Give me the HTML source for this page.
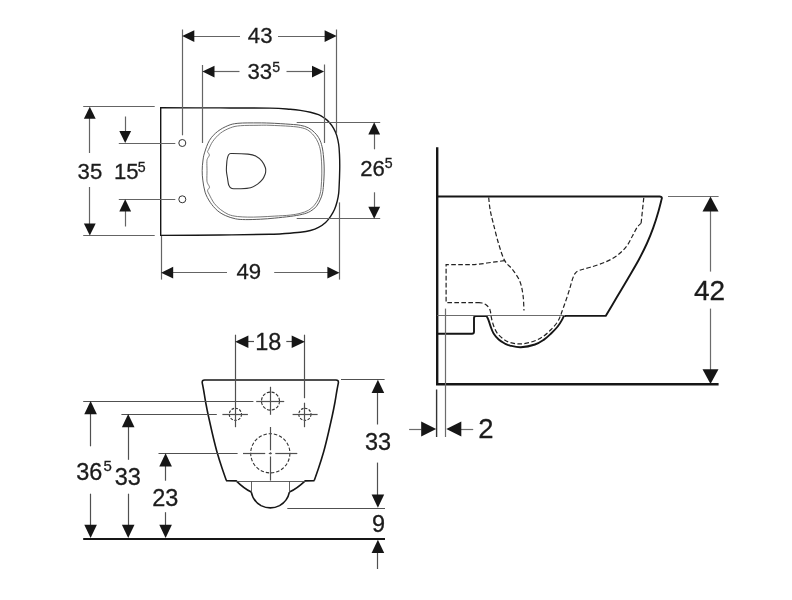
<!DOCTYPE html>
<html lang="en">
<head>
<meta charset="utf-8">
<title>Dimensional drawing</title>
<style>
html,body{margin:0;padding:0;background:#fff;}
body{width:792px;height:600px;overflow:hidden;}
svg{display:block;will-change:transform;}
svg path,svg circle{fill:none;}
svg text{font-family:"Liberation Sans",sans-serif;fill:#1c1c1c;stroke:#1c1c1c;stroke-width:0.3px;}
</style>
</head>
<body>
<svg role="img" aria-label="Dimensional drawing of a wall-hung WC: top, front and side view" width="792" height="600" viewBox="0 0 792 600">
<rect x="0" y="0" width="792" height="600" fill="#ffffff" stroke="none"/>
<path d="M160.7 107.8C170.6 107.8 201.8 107.9 220 107.9C238.2 108 258.3 107.9 270 108.1C281.7 108.3 285.1 108.9 290.2 109.3C295.2 109.7 296.9 109.9 300.3 110.4C303.7 110.9 307.4 111.5 310.4 112.2C313.4 112.9 316.1 113.7 318.5 114.7C320.9 115.7 322.6 116.9 324.5 118.2C326.4 119.5 328.1 121.1 329.6 122.8C331.1 124.5 332.4 126.2 333.6 128.3C334.8 130.4 335.9 132.7 336.7 135.4C337.5 138.1 338.2 141.3 338.7 144.5C339.2 147.7 339.3 150.3 339.5 154.6C339.7 158.8 339.8 164.9 339.7 170C339.6 175.1 339.4 181.2 339.2 185C339 188.8 339 190.4 338.7 193.1C338.4 195.8 337.9 198.5 337.2 201.2C336.5 203.9 335.7 206.7 334.6 209.2C333.5 211.7 332.1 214.1 330.6 216.3C329.1 218.5 327.6 220.6 325.6 222.4C323.6 224.2 321 226.1 318.5 227.4C316 228.8 313.4 229.7 310.4 230.5C307.4 231.3 304.5 231.8 300.3 232.3C296.1 232.8 290.2 233.2 285.2 233.5C280.1 233.8 280.9 233.9 270 234.2C259.1 234.4 238.2 234.8 220 235C201.8 235.2 170.6 235.3 160.7 235.4Z" stroke="#161616" stroke-width="1.4" stroke-linejoin="miter"/>
<path d="M202.2 170.6C202.2 167.4 202.5 163.9 202.9 161C203.3 158.1 203.4 156.3 204.5 152.9C205.6 149.5 207.3 143.9 209.5 140.3C211.7 136.7 214.6 133.8 217.7 131.4C220.8 129 224.4 127.1 227.8 125.7C231.2 124.3 232.9 123.8 237.9 123.3C242.9 122.8 252.7 122.9 258 122.9C263.4 122.9 264.6 122.9 270 123.1C275.4 123.3 285.1 123.9 290.2 124.3C295.2 124.7 297.3 124.7 300.3 125.3C303.3 125.9 306 126.6 308.4 127.8C310.8 129 312.7 130.8 314.4 132.4C316.1 134 317.3 135.4 318.5 137.4C319.7 139.4 320.7 141.6 321.5 144.5C322.3 147.4 322.9 150.3 323.3 154.6C323.8 158.8 324.2 164.9 324.2 170C324.2 175.1 323.8 181.2 323.5 185C323.2 188.8 323 190.8 322.5 193.1C322 195.4 321.5 196.9 320.5 199.1C319.5 201.3 318.2 204.2 316.5 206.2C314.8 208.2 312.8 210 310.4 211.3C308 212.7 305.7 213.5 302.3 214.3C298.9 215.2 294.8 215.8 290.2 216.4C285.6 217 279.7 217.6 274.8 218.1C269.9 218.6 265.6 218.9 260.7 219.2C255.8 219.4 249.7 219.7 245.5 219.6C241.3 219.5 238.8 219.5 235.4 218.8C232 218.1 228.3 216.9 225.3 215.5C222.3 214.1 219.7 212.6 217.2 210.4C214.7 208.2 212.2 205.3 210.2 202.3C208.2 199.3 206.3 195.9 205.1 192.2C203.9 188.5 203.3 183.7 202.8 180.1C202.3 176.5 202.2 173.8 202.2 170.6Z" stroke="#5a5a5a" stroke-width="1"/>
<path d="M207 170.6C207 167.5 206.8 163.5 206.9 161.5C207 159.5 207.1 159.7 207.5 158.6C207.9 157.5 209.4 156.1 209.4 155C209.4 153.9 207.7 152.7 207.6 151.8C207.5 150.9 207.8 151.2 208.6 149.5C209.4 147.8 210.8 144.2 212.7 141.5C214.6 138.8 217.4 135.6 220.3 133.3C223.2 131 227 129.1 230.4 127.8C233.8 126.5 235.9 126.1 240.5 125.7C245.1 125.3 253.2 125.4 258.1 125.3C263 125.2 264.6 125.1 270 125.3C275.4 125.5 285.1 125.9 290.2 126.3C295.2 126.7 297.4 126.9 300.3 127.5C303.2 128.1 305.4 128.7 307.4 129.8C309.4 130.9 310.9 132.3 312.4 133.9C313.9 135.5 315.3 137.3 316.5 139.4C317.7 141.5 318.8 144 319.5 146.5C320.2 149 320.6 150.7 321 154.6C321.4 158.5 321.8 164.9 321.8 170C321.9 175.1 321.6 181.2 321.3 185C321.1 188.8 320.8 190.8 320.3 193.1C319.8 195.4 319.3 197.1 318.3 199.1C317.3 201.1 316 203.3 314.4 205.2C312.8 207.1 310.8 209 308.4 210.3C306 211.7 303.3 212.5 300.3 213.3C297.3 214.1 294.4 214.6 290.2 215.1C285.9 215.6 279.8 215.8 274.8 216.1C269.8 216.4 264.6 216.7 260 216.9C255.4 217.1 251.3 217.2 247.5 217.1C243.7 217 240.6 216.9 237.4 216.5C234.2 216.1 231.2 215.6 228.3 214.4C225.5 213.2 222.7 211.2 220.3 209.4C218 207.6 216.1 205.8 214.2 203.3C212.3 200.8 210.2 196.3 209.1 194.2C208 192 207.5 191.6 207.6 190.4C207.7 189.2 209.5 188.4 209.5 187.2C209.5 186 208 184.5 207.6 183.3C207.2 182.1 207 182.2 206.9 180.1C206.8 178 207 173.7 207 170.6Z" stroke="#6a6a6a" stroke-width="0.9"/>
<path d="M226.4 170.6C226.3 167.8 226.7 163.4 226.9 161C227.2 158.6 227.5 157.5 227.9 156.3C228.3 155.1 228.8 154.4 229.6 153.9C230.4 153.4 229.4 153.5 232.5 153.5C235.6 153.5 244.2 153.7 248 154.1C251.8 154.5 253.3 154.8 255.6 156C257.9 157.2 260.3 159.2 261.9 161.1C263.5 163 264.7 165.8 265.3 167.5C265.9 169.2 265.7 169.9 265.7 171C265.7 172.1 265.7 172.7 265.2 174C264.7 175.3 264 177.4 262.7 179.1C261.4 180.8 259.6 182.7 257.6 184.1C255.6 185.5 253.4 186.9 250.6 187.7C247.8 188.5 243.6 188.6 240.5 188.7C237.4 188.8 233.8 189 231.9 188.4C230 187.8 229.5 186.9 228.8 185.2C228.1 183.5 227.9 180.5 227.5 178.1C227.1 175.7 226.5 173.4 226.4 170.6Z" stroke="#333" stroke-width="1.1"/>
<circle cx="182.3" cy="143" r="3.5" stroke="#333" stroke-width="1"/>
<circle cx="182.3" cy="199.3" r="3.5" stroke="#333" stroke-width="1"/>
<path d="M182.5 29.5L182.5 135.3" stroke="#646464" stroke-width="1.2"/>
<path d="M336.5 29.5L336.5 133.4" stroke="#646464" stroke-width="1.2"/>
<path d="M194 36.5L240 36.5" stroke="#646464" stroke-width="1.2"/>
<path d="M278 36.5L325 36.5" stroke="#646464" stroke-width="1.2"/>
<polygon points="182.2,36.1 194.3,30.2 194.3,42" fill="#161616" stroke="none"/>
<polygon points="336.7,36.1 324.6,30.2 324.6,42" fill="#161616" stroke="none"/>
<text transform="translate(260.2 43.4) scale(0.99 1)" font-size="22.4" text-anchor="middle">43</text>
<path d="M202.5 65L202.5 143" stroke="#646464" stroke-width="1.2"/>
<path d="M324.5 64.5L324.5 143" stroke="#646464" stroke-width="1.2"/>
<path d="M214 71.5L239.5 71.5" stroke="#646464" stroke-width="1.2"/>
<path d="M286.5 71.5L312 71.5" stroke="#646464" stroke-width="1.2"/>
<polygon points="202.4,71.6 214.5,65.7 214.5,77.5" fill="#161616" stroke="none"/>
<polygon points="324.1,71.6 312,65.7 312,77.5" fill="#161616" stroke="none"/>
<text transform="translate(247.5 79.2) scale(0.99 1)" font-size="22.4" text-anchor="start">33<tspan font-size="14.3" dx="0.1" dy="-7.1">5</tspan></text>
<path d="M83.2 106.5L154.7 106.5" stroke="#646464" stroke-width="1.2"/>
<path d="M83.2 235.5L154.7 235.5" stroke="#646464" stroke-width="1.2"/>
<path d="M89.5 118L89.5 153" stroke="#646464" stroke-width="1.2"/>
<path d="M89.5 187L89.5 224" stroke="#646464" stroke-width="1.2"/>
<polygon points="89.8,106.7 83.9,118.8 95.7,118.8" fill="#161616" stroke="none"/>
<polygon points="89.8,235.5 83.9,223.4 95.7,223.4" fill="#161616" stroke="none"/>
<text transform="translate(89.9 179) scale(0.99 1)" font-size="22.4" text-anchor="middle">35</text>
<path d="M118.8 143.5L175.3 143.5" stroke="#646464" stroke-width="1.2"/>
<path d="M118.8 199.5L175.3 199.5" stroke="#646464" stroke-width="1.2"/>
<path d="M125.5 116.5L125.5 132" stroke="#646464" stroke-width="1.2"/>
<path d="M125.5 211L125.5 226.5" stroke="#646464" stroke-width="1.2"/>
<polygon points="125.2,143 119.3,130.9 131.1,130.9" fill="#161616" stroke="none"/>
<polygon points="125.2,199.3 119.3,211.4 131.1,211.4" fill="#161616" stroke="none"/>
<text transform="translate(114 179) scale(0.99 1)" font-size="22.4" text-anchor="start">15<tspan font-size="14.3" dx="-0.8" dy="-7.1">5</tspan></text>
<path d="M296.7 122.5L380.2 122.5" stroke="#646464" stroke-width="1.2"/>
<path d="M296.7 218.5L380.2 218.5" stroke="#646464" stroke-width="1.2"/>
<path d="M374.5 134L374.5 149.3" stroke="#646464" stroke-width="1.2"/>
<path d="M374.5 192.3L374.5 207" stroke="#646464" stroke-width="1.2"/>
<polygon points="374.2,122.3 368.3,134.4 380.1,134.4" fill="#161616" stroke="none"/>
<polygon points="374.2,218.8 368.3,206.7 380.1,206.7" fill="#161616" stroke="none"/>
<text transform="translate(360.3 175.8) scale(0.99 1)" font-size="22.4" text-anchor="start">26<tspan font-size="14.3" dx="-0.3" dy="-7.5">5</tspan></text>
<path d="M161.5 236L161.5 279.6" stroke="#646464" stroke-width="1.2"/>
<path d="M339.5 202.4L339.5 279.6" stroke="#646464" stroke-width="1.2"/>
<path d="M173 272.5L227 272.5" stroke="#646464" stroke-width="1.2"/>
<path d="M274.2 272.5L328 272.5" stroke="#646464" stroke-width="1.2"/>
<polygon points="161.1,272.7 173.2,266.8 173.2,278.6" fill="#161616" stroke="none"/>
<polygon points="339.5,272.7 327.4,266.8 327.4,278.6" fill="#161616" stroke="none"/>
<text transform="translate(248.8 279) scale(0.99 1)" font-size="22.4" text-anchor="middle">49</text>
<path d="M226.4 480.6C225.7 478.5 223.6 472.8 222 468C220.4 463.2 218.7 458 217 452C215.3 446 213.4 438 212 432C210.6 426 209.5 421 208.4 416C207.3 411 206.4 406.3 205.6 402C204.8 397.7 204.2 393.2 203.6 390C203 386.8 202.4 383.8 202.2 382.6Q202 380 204.6 380 L336 380 Q338.6 380 338.4 382.6C338.2 383.8 337.6 386.8 337 390C336.4 393.2 335.8 397.7 335 402C334.2 406.3 333.3 411 332.2 416C331.1 421 330 426 328.6 432C327.2 438 325.3 446 323.6 452C321.9 458 320.2 463.2 318.6 468C317 472.8 314.9 478.5 314.2 480.6" stroke="#161616" stroke-width="1.6" stroke-linejoin="round"/>
<path d="M226 480.8 L236.2 480.9 Q244.5 489 251.3 492.1" stroke="#161616" stroke-width="1.6"/>
<path d="M314.5 480.8 L305.2 480.9 Q296.5 489 289.4 492.1" stroke="#161616" stroke-width="1.6"/>
<path d="M251.3 492.1 Q253 501 261 505.6 Q270.5 510.2 279.6 505.6 Q287.6 501 289.4 492.1" stroke="#161616" stroke-width="1.6"/>
<path d="M236 481.5L305.4 481.5" stroke="#505050" stroke-width="0.9"/>
<path d="M251.5 481L251.5 492" stroke="#505050" stroke-width="0.9"/>
<path d="M289.5 481L289.5 492" stroke="#505050" stroke-width="0.9"/>
<circle cx="270.5" cy="401.1" r="9" stroke="#333" stroke-width="1.1" stroke-dasharray="3.2 1.6"/>
<circle cx="235.4" cy="414.3" r="6.1" stroke="#333" stroke-width="1.1" stroke-dasharray="2.6 1.4"/>
<circle cx="304.9" cy="414.3" r="6.1" stroke="#333" stroke-width="1.1" stroke-dasharray="2.6 1.4"/>
<circle cx="270.3" cy="453.3" r="19.6" stroke="#333" stroke-width="1.1" stroke-dasharray="3.4 1.9"/>
<path d="M270.5 386.8L270.5 414.8" stroke="#505050" stroke-width="1.2"/>
<path d="M256.2 401.5L284.2 401.5" stroke="#505050" stroke-width="1.2"/>
<path d="M222.4 414.5L247.9 414.5" stroke="#505050" stroke-width="1.2"/>
<path d="M292.6 414.5L317.6 414.5" stroke="#505050" stroke-width="1.2"/>
<path d="M270.5 427L270.5 450.3" stroke="#505050" stroke-width="1.2"/>
<path d="M270.5 452.3L270.5 454.3" stroke="#505050" stroke-width="1.2"/>
<path d="M270.5 456.5L270.5 480.6" stroke="#505050" stroke-width="1.2"/>
<path d="M243 453.5L265.2 453.5" stroke="#505050" stroke-width="1.2"/>
<path d="M268.8 453.5L271.8 453.5" stroke="#505050" stroke-width="1.2"/>
<path d="M275.3 453.5L297.3 453.5" stroke="#505050" stroke-width="1.2"/>
<path d="M235.5 334.7L235.5 427.2" stroke="#505050" stroke-width="1.2"/>
<path d="M304.5 334.7L304.5 398.2" stroke="#505050" stroke-width="1.2"/>
<path d="M304.5 402.7L304.5 427.2" stroke="#505050" stroke-width="1.2"/>
<path d="M247 341.5L254 341.5" stroke="#505050" stroke-width="1.2"/>
<path d="M286.3 341.5L293 341.5" stroke="#505050" stroke-width="1.2"/>
<polygon points="235.2,341.8 248.4,335.5 248.4,348.1" fill="#161616" stroke="none"/>
<polygon points="304.9,341.8 291.7,335.5 291.7,348.1" fill="#161616" stroke="none"/>
<text transform="translate(268.3 349.7) scale(0.987 1)" font-size="23.8" text-anchor="middle">18</text>
<path d="M83.2 401.5L253.4 401.5" stroke="#505050" stroke-width="1.2"/>
<path d="M121.4 414.5L216.8 414.5" stroke="#505050" stroke-width="1.2"/>
<path d="M158.5 453.5L237.6 453.5" stroke="#505050" stroke-width="1.2"/>
<path d="M90.5 413L90.5 446.3" stroke="#505050" stroke-width="1.2"/>
<path d="M90.5 493.7L90.5 527" stroke="#505050" stroke-width="1.2"/>
<polygon points="90.6,401 84.3,414.2 96.9,414.2" fill="#161616" stroke="none"/>
<polygon points="90.6,538 84.3,524.8 96.9,524.8" fill="#161616" stroke="none"/>
<text transform="translate(76.3 480) scale(0.987 1)" font-size="23.8" text-anchor="start">36<tspan font-size="15.2" dx="1.2" dy="-8.6">5</tspan></text>
<path d="M128.5 426L128.5 459.8" stroke="#505050" stroke-width="1.2"/>
<path d="M128.5 493.7L128.5 527" stroke="#505050" stroke-width="1.2"/>
<polygon points="128.2,414 121.9,427.2 134.5,427.2" fill="#161616" stroke="none"/>
<polygon points="128.2,538 121.9,524.8 134.5,524.8" fill="#161616" stroke="none"/>
<text transform="translate(127.8 484.8) scale(0.987 1)" font-size="23.8" text-anchor="middle">33</text>
<path d="M165.5 465.5L165.5 480.7" stroke="#505050" stroke-width="1.2"/>
<path d="M165.5 512.2L165.5 527" stroke="#505050" stroke-width="1.2"/>
<polygon points="165.6,453.3 159.3,466.5 171.9,466.5" fill="#161616" stroke="none"/>
<polygon points="165.6,538 159.3,524.8 171.9,524.8" fill="#161616" stroke="none"/>
<text transform="translate(165.3 505.6) scale(0.987 1)" font-size="23.8" text-anchor="middle">23</text>
<path d="M83.2 539.1L385 539.1" stroke="#161616" stroke-width="2"/>
<path d="M341 379.5L384.6 379.5" stroke="#505050" stroke-width="1.2"/>
<path d="M287.3 508.5L385 508.5" stroke="#505050" stroke-width="1.2"/>
<path d="M377.5 392L377.5 424.5" stroke="#505050" stroke-width="1.2"/>
<path d="M377.5 462.6L377.5 496" stroke="#505050" stroke-width="1.2"/>
<polygon points="377.9,379.8 371.6,393 384.2,393" fill="#161616" stroke="none"/>
<polygon points="377.9,507.8 371.6,494.6 384.2,494.6" fill="#161616" stroke="none"/>
<text transform="translate(378 450.2) scale(0.987 1)" font-size="23.8" text-anchor="middle">33</text>
<text transform="translate(378.5 532) scale(0.987 1)" font-size="23.8" text-anchor="middle">9</text>
<path d="M377.5 551L377.5 569" stroke="#505050" stroke-width="1.2"/>
<polygon points="377.9,539.8 371.6,553 384.2,553" fill="#161616" stroke="none"/>
<path d="M437.2 147.3L437.2 384.3L718.6 384.3" stroke="#161616" stroke-width="2.4"/>
<path d="M437.2 196.5 L659.3 196.5 Q662.2 196.4 661.8 198.6C661.2 200.7 659.9 206.3 658.5 211.2C657.1 216.1 655.1 222.6 653.2 227.9C651.3 233.2 649.5 237.7 647.1 243C644.7 248.3 642.1 253.6 638.8 259.7C635.5 265.8 631.1 273.1 627.4 279.4C623.7 285.7 620.4 291.2 616.8 297.3C613.2 303.4 607.6 312.8 605.7 315.9 L565 315.9" stroke="#161616" stroke-width="1.9" stroke-linejoin="round"/>
<path d="M566 315.9 L563.9 315.9 563.9 315.9C563.5 316.6 562.7 318.6 561.7 320.4C560.7 322.2 559.5 324.3 557.7 326.5C555.9 328.7 553.4 331.3 551.1 333.5C548.8 335.7 546.7 337.8 544 339.6C541.3 341.4 538.9 343.2 535 344.5C531.1 345.8 525.1 347 520.9 347.2C516.7 347.4 512.7 346.2 510 345.6C507.3 345 506.6 344.5 504.7 343.5C502.8 342.5 500.5 341.2 498.7 339.5C496.9 337.8 495 335.6 493.6 333.4C492.2 331.2 491.4 328.6 490.6 326.4C489.8 324.2 489.3 322 488.6 320.3C487.9 318.6 486.9 316.7 486.6 316 L476 316 Q474 316 474 318 L474 331.8 Q474 333.8 472 333.8 L437.2 333.8" stroke="#161616" stroke-width="1.9" stroke-linejoin="round"/>
<path d="M437.2 315.5L565 315.5" stroke="#6c6c6c" stroke-width="1.2"/>
<path d="M488.7 197.5C488.9 199.6 489.4 205.8 490.2 210C490.9 214.2 491.8 217.5 493.2 223C494.6 228.5 496.5 236.8 498.4 243C500.3 249.2 502.2 256 504.6 260.4C507 264.8 510 266.1 512.5 269.5C515 272.9 518 276.8 519.7 281C521.5 285.2 522.3 290.1 523 295C523.7 299.9 523.8 307.9 524 310.5" stroke="#222" stroke-width="1.2" stroke-dasharray="4.6 2.4"/>
<path d="M504.6 260.6 L487 263 Q478 264.6 470 264.6 L446.1 264.6 L446.1 302.6 L478 302.6" stroke="#222" stroke-width="1.2" stroke-dasharray="4.6 2.4"/>
<path d="M478 302.6C478.7 302.7 480.6 302.6 482 303C483.4 303.4 485.2 304 486.6 305.2C488 306.4 489.4 308.3 490.1 310.2C490.9 312.1 490.6 313.9 491.1 316.3C491.6 318.7 492.2 321.6 493.1 324.3C494 327 495.1 330 496.7 332.4C498.3 334.8 500.5 336.8 502.7 338.5C504.9 340.2 507 341.6 510 342.5C513 343.4 517.1 344.1 520.9 343.9C524.7 343.7 529.3 342.7 533 341.5C536.7 340.3 540 338.6 543 336.6C546 334.6 548.7 331.9 551.1 329.5C553.5 327.1 555.7 324.6 557.2 322.4C558.7 320.2 559.5 318.1 560.2 316.4C561 314.7 560.9 314.7 561.7 312.3C562.6 309.9 564 305.9 565.3 302.2C566.6 298.5 568.1 293.9 569.3 290.1C570.5 286.3 571.4 282.2 572.4 279.4C573.4 276.6 574 274.8 575.2 273.3C576.4 271.8 577.2 271.3 579.7 270.3C582.2 269.3 586 268.7 590.3 267.3C594.6 265.9 601 264 605.5 262C610 260 614.1 257.8 617.6 255.2C621.1 252.5 624.2 249.4 626.7 246.1C629.2 242.8 630.9 238.7 632.7 235.5C634.5 232.3 635.9 229.1 637.3 227.1C638.7 225.1 640.5 223.9 641.1 223.3" stroke="#222" stroke-width="1.2" stroke-dasharray="4.6 2.4"/>
<path d="M641.1 223.3L643.8 197.5" stroke="#222" stroke-width="1.2" stroke-dasharray="4.6 2.4"/>
<path d="M668 196.5L718.6 196.5" stroke="#6c6c6c" stroke-width="1.2"/>
<path d="M710.5 210L710.5 271.6" stroke="#6c6c6c" stroke-width="1.2"/>
<path d="M710.5 308.6L710.5 370" stroke="#6c6c6c" stroke-width="1.2"/>
<polygon points="710.5,196.6 702.5,211.4 718.5,211.4" fill="#161616" stroke="none"/>
<polygon points="710.5,384 702.5,369.2 718.5,369.2" fill="#161616" stroke="none"/>
<text transform="translate(709.5 300) scale(1.01 1)" font-size="27.8" text-anchor="middle">42</text>
<path d="M436.6 389.5L436.6 437" stroke="#333" stroke-width="1.4"/>
<path d="M445.5 308.6L445.5 437" stroke="#6c6c6c" stroke-width="1.2"/>
<path d="M409.1 429.5L421.5 429.5" stroke="#6c6c6c" stroke-width="1.2"/>
<path d="M461 429.5L473.2 429.5" stroke="#6c6c6c" stroke-width="1.2"/>
<polygon points="436.2,429 421.2,421.4 421.2,436.6" fill="#161616" stroke="none"/>
<polygon points="446.3,429 461.3,421.4 461.3,436.6" fill="#161616" stroke="none"/>
<text transform="translate(478.2 437.8) scale(1.01 1)" font-size="27.2" text-anchor="start">2</text>
</svg>
</body>
</html>
